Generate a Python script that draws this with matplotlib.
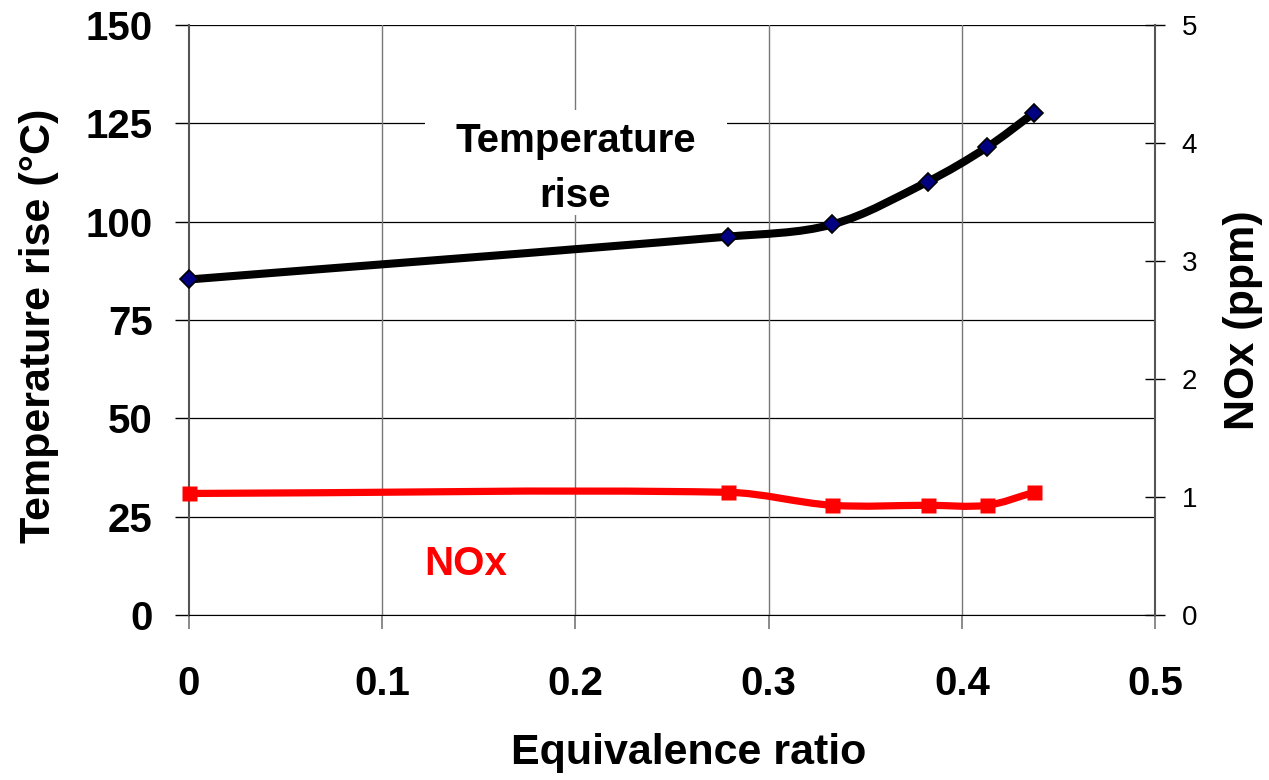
import numpy as np
import matplotlib
matplotlib.use("Agg")
import matplotlib.pyplot as plt
from matplotlib.path import Path
from matplotlib.patches import PathPatch, Rectangle

plt.rcParams['font.family'] = ['Liberation Sans', 'DejaVu Sans']

# data
equiv_ratio = [0.0, 0.279, 0.333, 0.3825, 0.413, 0.4375]
temp_rise = [85.3, 96.2, 99.3, 110.2, 118.9, 127.7]
nox_ppm = [1.03, 1.04, 0.93, 0.93, 0.93, 1.04]

x_ticks = [0, 0.1, 0.2, 0.3, 0.4, 0.5]
x_ticklabels = ['0', '0.1', '0.2', '0.3', '0.4', '0.5']
temp_ticks = [0, 25, 50, 75, 100, 125, 150]
nox_ticks = [0, 1, 2, 3, 4, 5]


def smooth_path(xs, ys, xscale, yscale):
    # smoothed line drawn as cubic Bezier segments; tangents are worked out
    # in screen proportions (xscale, yscale = axis spans) to avoid overshoot
    pts = np.column_stack([xs, ys]).astype(float)
    sc = np.array([1.0 / xscale, 1.0 / yscale])
    n = len(pts)
    tang = []
    for i in range(n):
        p0 = pts[max(i - 1, 0)] * sc
        p2 = pts[min(i + 1, n - 1)] * sc
        d = p2 - p0
        tang.append(d / np.hypot(*d))
    verts = [pts[0]]
    codes = [Path.MOVETO]
    for i in range(n - 1):
        p1 = pts[i] * sc
        p2 = pts[i + 1] * sc
        seg = np.hypot(*(p2 - p1)) / 3.0
        c1 = (p1 + tang[i] * seg) / sc
        c2 = (p2 - tang[i + 1] * seg) / sc
        verts += [c1, c2, pts[i + 1]]
        codes += [Path.CURVE4] * 3
    return Path(verts, codes)


fig = plt.figure(figsize=(12.69, 7.80), dpi=100)
ax = fig.add_axes([0.1489, 0.2115, 0.9102 - 0.1489, 0.968 - 0.2115])
ax2 = ax.twinx()

ax.set_xlim(0, 0.5)
ax.set_ylim(0, 150)
ax2.set_ylim(0, 5)

# grid
for y in temp_ticks:
    ax.axhline(y, color='black', lw=0.9, zorder=0)
for x in x_ticks[1:]:
    ax.axvline(x, color='#777777', lw=1.0, zorder=0)

# temperature curve (screen aspect: 966 px for 0.5, 590 px for 150)
ax.add_patch(PathPatch(smooth_path(equiv_ratio, temp_rise, 0.5 / 966, 150 / 590),
                       fill=False, edgecolor='black', lw=5.8, capstyle='round',
                       joinstyle='round', zorder=3))
ax.plot(equiv_ratio, temp_rise, linestyle='none', marker='D', markersize=9,
        markerfacecolor='#000080', markeredgecolor='black',
        markeredgewidth=1.2, zorder=4, clip_on=False)

# NOx curve on the right axis
ax2.add_patch(PathPatch(smooth_path(equiv_ratio, nox_ppm, 0.5 / 966, 5 / 590),
                        fill=False, edgecolor='#ff0000', lw=5.2, capstyle='butt',
                        joinstyle='round', zorder=3))
ax2.plot(equiv_ratio, nox_ppm, linestyle='none', marker='s', markersize=10.8,
         markerfacecolor='#ff0000', markeredgecolor='none', zorder=4,
         clip_on=False)

# spines
for a in (ax, ax2):
    a.spines['top'].set_visible(False)
ax.spines['left'].set_color('#555555')
ax.spines['left'].set_linewidth(1.5)
ax.spines['bottom'].set_color('black')
ax.spines['right'].set_visible(False)
ax2.spines['left'].set_visible(False)
ax2.spines['bottom'].set_visible(False)
ax2.spines['right'].set_color('#555555')
ax2.spines['right'].set_linewidth(1.5)

ax.set_xticks(x_ticks)
ax.set_xticklabels(x_ticklabels)
ax.set_yticks(temp_ticks)
ax.tick_params(axis='x', direction='out', length=10, width=1.2,
               color='#777777', pad=26, labelsize=29)
ax.tick_params(axis='y', direction='out', length=10, width=1.0,
               color='black', pad=16, labelsize=29)
for lab in ax.get_xticklabels() + ax.get_yticklabels():
    lab.set_fontweight('bold')

ax2.set_yticks(nox_ticks)
ax2.tick_params(axis='y', direction='inout', length=14, width=1.0,
                color='black', pad=12, labelsize=20)

ax.set_xlabel('Equivalence ratio', fontsize=31, fontweight='bold')
ax.xaxis.set_label_coords(0.5176, -0.2)
ax.set_ylabel('Temperature rise (°C)', fontsize=31, fontweight='bold')
ax.yaxis.set_label_coords(-0.135, 0.49)
ax2.set_ylabel('NOx (ppm)', fontsize=31, fontweight='bold')
ax2.yaxis.set_label_coords(1.07, 0.5)

# white box behind the in-plot series label
ax.add_patch(Rectangle((0.2443, 0.678), 0.3126, 0.178, transform=ax.transAxes,
                       facecolor='white', edgecolor='none', zorder=1))
ax.text(0.2, 113.5, 'Temperature\nrise', ha='center', va='center', fontsize=29,
        fontweight='bold', linespacing=1.55, zorder=5)
ax.text(0.143, 13, 'NOx', ha='center', va='center', fontsize=29,
        fontweight='bold', color='#ff0000', zorder=5)

fig.savefig('out.png', dpi=100)
